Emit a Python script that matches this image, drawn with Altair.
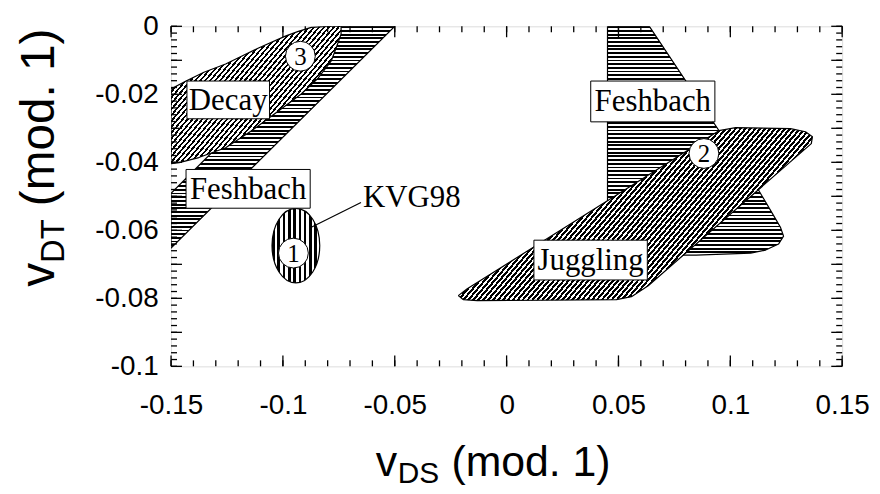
import math
import altair as alt
import pandas as pd

# ---------------- data ----------------
X_DOMAIN = [-0.15, 0.15]
Y_DOMAIN = [-0.1, 0.0]

decay_x = [-0.1500, -0.1433, -0.1353, -0.1256, -0.1176, -0.1109, -0.0989, -0.0931, -0.0873, -0.0798, -0.0740,
           -0.0740, -0.0762, -0.0784, -0.0842, -0.0918, -0.1020, -0.1140, -0.1256, -0.1376, -0.1464, -0.1500]
decay_y = [-0.0184, -0.0161, -0.0135, -0.0111, -0.0085, -0.0064, -0.0029, -0.0015, -0.0003, 0.0, 0.0,
           -0.0023, -0.0064, -0.0102, -0.0152, -0.0199, -0.0249, -0.0307, -0.0357, -0.0386, -0.0401, -0.0404]

fesh_left_x = [-0.1500, -0.0753, -0.0500, -0.1500]
fesh_left_y = [-0.0491, 0.0, 0.0, -0.0652]

fesh_right_x = [0.0451, 0.0638, 0.1122, 0.1193, 0.1224, 0.1238, 0.1216, 0.1158, 0.1091, 0.0847, 0.0758, 0.0451]
fesh_right_y = [0.0, 0.0, -0.0477, -0.0556, -0.0591, -0.0617, -0.0640, -0.0658, -0.0667, -0.0673, -0.0673, -0.0673]

juggling_x = [-0.0216, -0.0176, 0.0949, 0.1024, 0.1269, 0.1336, 0.1367, 0.1362, 0.0633, 0.0558, 0.0491, -0.0131, -0.0193]
juggling_y = [-0.0792, -0.0772, -0.0307, -0.0298, -0.0301, -0.0310, -0.0325, -0.0345, -0.0763, -0.0795, -0.0804, -0.0807, -0.0804]

kvg_x = [-0.0942]
kvg_y = [-0.0645]

label_text = ["Decay", "Feshbach", "Feshbach", "Juggling"]
box_x1 = [-0.1429, -0.1433, 0.0376, 0.0122]
box_x2 = [-0.1060, -0.0878, 0.0931, 0.0629]
box_y1 = [-0.0161, -0.0421, -0.0161, -0.0629]
box_y2 = [-0.0272, -0.0535, -0.0281, -0.0746]

circle_text = ["1", "2", "3"]
circle_x = [-0.0953, 0.0882, -0.0922]
circle_y = [-0.0667, -0.0374, -0.0088]

kvg_label = ["KVG98"]
kvg_label_x = [-0.0642]
kvg_label_y = [-0.0506]
leader_x = [-0.0873]
leader_y = [-0.0591]
leader_x2 = [-0.0651]
leader_y2 = [-0.0518]

x_label_values = [-0.15, -0.1, -0.05, 0, 0.05, 0.1, 0.15]
y_label_values = [0, -0.02, -0.04, -0.06, -0.08, -0.1]
x_major_ticks = [-0.15, -0.1, -0.05, 0.0, 0.05, 0.1, 0.15]
x_minor_ticks = [round(-0.15 + 0.01 * i, 3) for i in range(31)]
y_major_ticks = [round(-0.01 * i, 3) for i in range(11)]
y_minor_ticks = [round(-0.002 * i, 4) for i in range(51)]

# ---------------- layout ----------------
W, H = 675, 342
SX = W / (X_DOMAIN[1] - X_DOMAIN[0])
SY = H / (Y_DOMAIN[1] - Y_DOMAIN[0])

xs = alt.Scale(domain=X_DOMAIN, nice=False, zero=False)
ys = alt.Scale(domain=Y_DOMAIN, nice=False, zero=False)
X = alt.X("x:Q", scale=xs, title=None,
          axis=alt.Axis(values=x_label_values, labelExpr="datum.value + ''", ticks=False, tickSize=0,
                        domain=False, grid=False, labelFont="Liberation Sans", labelFontSize=28,
                        labelColor="black", labelPadding=25, labelFlush=False, labelOverlap=False))
Y = alt.Y("y:Q", scale=ys, title=None,
          axis=alt.Axis(values=y_label_values, labelExpr="datum.value + ''", ticks=False, tickSize=0,
                        domain=False, grid=False, labelFont="Liberation Sans", labelFontSize=28,
                        labelColor="black", labelPadding=13, labelFlush=False, labelOverlap=False))


def stripes(n, frac=0.5):
    stops = []
    for i in range(n):
        a = i / n
        b = (i + frac) / n
        c = (i + 1) / n
        stops += [alt.GradientStop(offset=a, color="#000000"), alt.GradientStop(offset=b, color="#000000"),
                  alt.GradientStop(offset=b, color="#ffffff"), alt.GradientStop(offset=c, color="#ffffff")]
    return stops


def hatch(w, h, angle, period, frac=0.5):
    if angle == 0:
        n = max(1, round(h / period))
        return alt.Gradient(gradient="linear", x1=0, y1=0, x2=0, y2=1, stops=stripes(n, frac))
    if angle == 90:
        n = max(1, round(w / period))
        return alt.Gradient(gradient="linear", x1=0, y1=0, x2=1, y2=0, stops=stripes(n, frac))
    th = math.radians(angle)
    gx = math.sin(th) / h
    gy = math.cos(th) / w
    s = (gx + gy) / (gx * gx + gy * gy)
    n = max(1, round((w * math.sin(th) + h * math.cos(th)) / period))
    return alt.Gradient(gradient="linear", x1=0, y1=0, x2=s * gx, y2=s * gy, stops=stripes(n, frac))


def polygon(xv, yv, angle, period, frac=0.5):
    px = [(v - X_DOMAIN[0]) * SX for v in xv]
    py = [(Y_DOMAIN[1] - v) * SY for v in yv]
    w = max(px) - min(px)
    h = max(py) - min(py)
    df = pd.DataFrame({"x": list(xv) + [xv[0]], "y": list(yv) + [yv[0]], "i": list(range(len(xv) + 1))})
    return alt.Chart(df).mark_line(
        fill=hatch(w, h, angle, period, frac), stroke="black", strokeWidth=1.2, interpolate="linear",
        strokeJoin="round", clip=True
    ).encode(x=X, y=Y, order=alt.Order("i:Q"))


fesh_left = polygon(fesh_left_x, fesh_left_y, 0, 3.7)
decay = polygon(decay_x, decay_y, 50, 3.8, 0.45)
fesh_right = polygon(fesh_right_x, fesh_right_y, 0, 3.7)
juggling = polygon(juggling_x, juggling_y, 50, 3.8, 0.55)

ell_rx, ell_ry = 24.0, 37.5
ellipse_shape = "M0,-1A{0},1,0,1,1,0,1A{0},1,0,1,1,0,-1Z".format(round(ell_rx / ell_ry, 3))
ellipse = alt.Chart(pd.DataFrame({"x": kvg_x, "y": kvg_y})).mark_point(
    shape=ellipse_shape, size=(2 * ell_ry) ** 2, filled=True, opacity=1,
    fill=hatch(2 * ell_rx, 2 * ell_ry, 90, 5.5), stroke="black", strokeWidth=1.2
).encode(x=X, y=Y)

leader = alt.Chart(pd.DataFrame({"x": leader_x, "y": leader_y, "x2": leader_x2, "y2": leader_y2})).mark_rule(
    color="black", strokeWidth=1.2
).encode(x=X, y=Y, x2="x2:Q", y2="y2:Q")

box_df = pd.DataFrame({"x": box_x1, "x2": box_x2, "y": box_y1, "y2": box_y2, "label": label_text,
                       "cx": [(a + b) / 2 for a, b in zip(box_x1, box_x2)],
                       "cy": [(a + b) / 2 for a, b in zip(box_y1, box_y2)]})
boxes = alt.Chart(box_df).mark_rect(fill="white", stroke="black", strokeWidth=1).encode(
    x=X, y=Y, x2="x2:Q", y2="y2:Q")
box_text = alt.Chart(box_df).mark_text(
    font="Liberation Serif", fontSize=31, color="black", align="center", baseline="middle", dy=1
).encode(x=alt.X("cx:Q", scale=xs), y=alt.Y("cy:Q", scale=ys), text="label:N")

circ_df = pd.DataFrame({"x": circle_x, "y": circle_y, "t": circle_text})
circles = alt.Chart(circ_df).mark_point(
    shape="circle", size=900, filled=True, opacity=1, fill="white", stroke="black", strokeWidth=1
).encode(x=X, y=Y)
circ_text = alt.Chart(circ_df).mark_text(
    font="Liberation Serif", fontSize=25, color="black", align="center", baseline="middle", dy=1
).encode(x=X, y=Y, text="t:N")

kvg_text = alt.Chart(pd.DataFrame({"x": kvg_label_x, "y": kvg_label_y, "t": kvg_label})).mark_text(
    font="Liberation Serif", fontSize=31, color="black", align="left", baseline="middle"
).encode(x=X, y=Y, text="t:N")


def tick_layer(values, axis, length):
    df = pd.DataFrame({"v": values})
    if axis == "x":
        bot = alt.Chart(df).mark_rule(color="black", strokeWidth=1.3).encode(
            x=alt.X("v:Q", scale=xs), y=alt.value(H), y2=alt.value(H - length))
        top = alt.Chart(df).mark_rule(color="black", strokeWidth=1.3).encode(
            x=alt.X("v:Q", scale=xs), y=alt.value(0), y2=alt.value(length))
    else:
        bot = alt.Chart(df).mark_rule(color="black", strokeWidth=1.3).encode(
            y=alt.Y("v:Q", scale=ys), x=alt.value(0), x2=alt.value(length))
        top = alt.Chart(df).mark_rule(color="black", strokeWidth=1.3).encode(
            y=alt.Y("v:Q", scale=ys), x=alt.value(W), x2=alt.value(W - length))
    return [bot, top]


ticks = (tick_layer(x_minor_ticks, "x", 6) + tick_layer(x_major_ticks, "x", 11)
         + tick_layer(y_minor_ticks, "y", 6) + tick_layer(y_major_ticks, "y", 11))


def ttext(txt, x, y, size, angle=0):
    return alt.Chart(pd.DataFrame({"t": [txt]})).mark_text(
        font="Liberation Sans", fontSize=size, color="black", align="left", baseline="alphabetic", angle=angle
    ).encode(x=alt.value(x), y=alt.value(y), text="t:N")


xt0 = 206
yt0 = 262
titles = [
    ttext("v", xt0, 452, 43),
    ttext("DS", xt0 + 22, 459, 30),
    ttext("(mod. 1)", xt0 + 22 + 42 + 12, 452, 43),
    ttext("v", -118, yt0, 48, 270),
    ttext("DT", -108, yt0 - 24, 33, 270),
    ttext("(mod. 1)", -118, yt0 - 24 - 44 - 13, 48, 270),
]

chart = alt.layer(
    fesh_left, decay, fesh_right, juggling, ellipse, leader, boxes, box_text, circles, circ_text, kvg_text,
    *ticks, *titles
).properties(
    width=W, height=H,
    padding={"left": 164, "top": 17, "right": 30, "bottom": 127},
    autosize=alt.AutoSizeParams(type="none"),
).configure_view(stroke="black", strokeWidth=1.5).configure(background="white")

chart.save("out.html", embed_options={"renderer": "svg", "actions": False})
